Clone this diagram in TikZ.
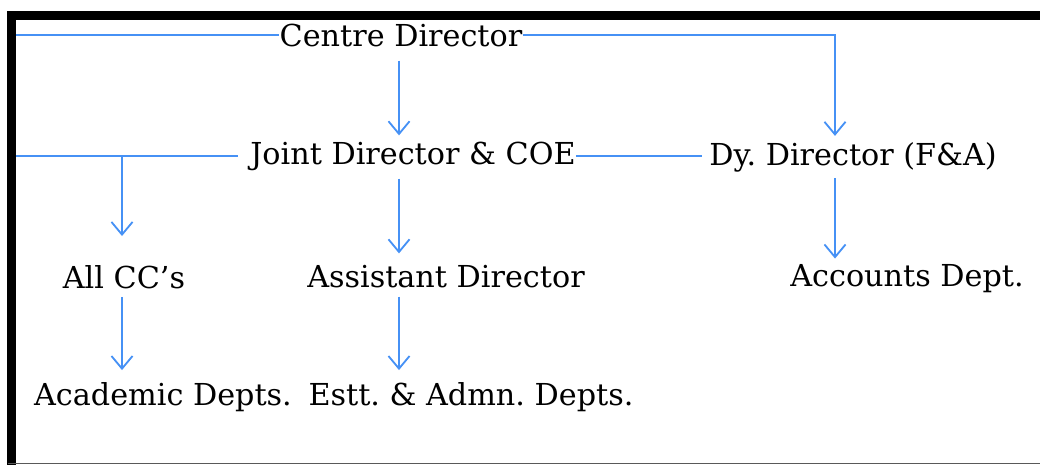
\documentclass[tikz,border=0pt]{standalone}
\usepackage{fontspec}
\setmainfont{DejaVu Serif}
\usetikzlibrary{calc}
\usetikzlibrary{positioning}
\usetikzlibrary{arrows.meta}
\definecolor{lineblue}{RGB}{70,145,245}

\tikzset{
  post/.style={font=\fontsize{21.5}{24}\selectfont, inner sep=0pt},
  link/.style={draw=lineblue, line width=1.3pt},
  arr/.style={link, -{Straight Barb[length=9pt,width=15pt]}}
}

\begin{document}
\frenchspacing
\begin{tikzpicture}[x=0.025cm,y=-0.025cm]
    \useasboundingbox (0,0) rectangle (1040,465);
    % frame
    \draw[line width=5.7pt] (11.5,465) -- (11.5,15.5) -- (1040,15.5);
    \draw[gray!70!black, line width=0.8pt] (8,463.5) -- (1040,463.5);

    % posts
    \node[post] (cd) at (401,35) {Centre Director};
    \node[post] (jd) at (413,156) {Joint Director \& COE};
    \node[post] (dy) at (853,157) {Dy. Director (F\&A)};
    \node[post] (cc) at (124,277) {All CC's};
    \node[post] (ad) at (446,277) {Assistant Director};
    \node[post] (ac) at (907,279) {Accounts Dept.};
    \node[post] (acad) at (163,397) {Academic Depts.};
    \node[post] (estt) at (471,397) {Estt. \& Admn. Depts.};

    % columns of the arrows
    \coordinate (lb) at (16,0);
    \coordinate (c1) at (122,0);
    \coordinate (c2) at (399,0);
    \coordinate (c3) at (835,0);

    \draw[link] (cd.west -| lb) -- (cd.west);
    \draw[arr] (cd.east) -| ($(dy.north -| c3)+(0,-6)$);
    \draw[arr] ($(cd.south -| c2)+(0,14)$) -- ($(jd.north -| c2)+(0,-6)$);

    \draw[link] (jd.west -| lb) -- ($(jd.west)+(-12,0)$);
    \draw[arr] (jd.west -| c1) -- ($(cc.north -| c1)+(0,-29)$);
    \draw[link] (jd.east) -- ($(jd.east -| dy.west)+(-7,0)$);
    \draw[arr] ($(jd.south -| c2)+(0,8)$) -- ($(ad.north -| c2)+(0,-12)$);
    \draw[arr] ($(dy.south -| c3)+(0,6)$) -- ($(ac.north -| c3)+(0,-6)$);

    \draw[arr] ($(cc.south -| c1)+(0,8)$) -- ($(acad.north -| c1)+(0,-12)$);
    \draw[arr] ($(ad.south -| c2)+(0,8)$) -- ($(estt.north -| c2)+(0,-12)$);
\end{tikzpicture}
\end{document}
